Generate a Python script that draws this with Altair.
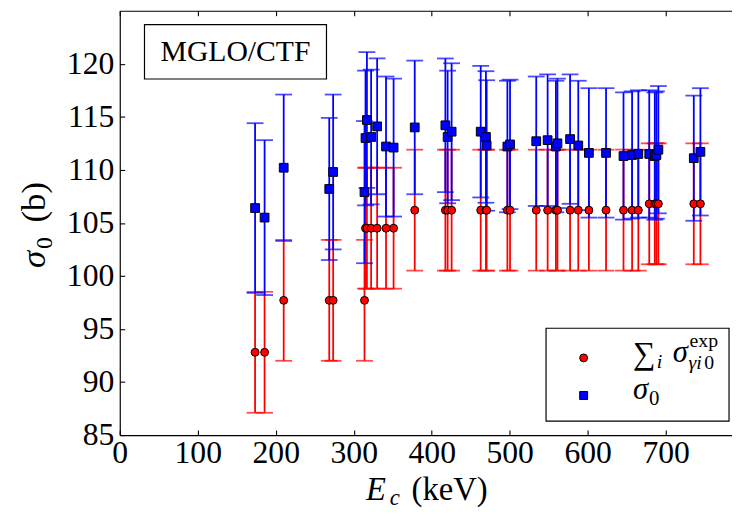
import altair as alt
import pandas as pd

# ---- data ----
energy = [173.5, 185.7, 210.2, 268.6, 273.6, 313.8, 315.1, 316.9, 322.3, 330.0,
          341.4, 351.1, 378.2, 417.5, 420.4, 425.5, 462.8, 469.5, 470.4, 497.0,
          500.4, 534.0, 548.6, 559.2, 561.2, 577.4, 587.9, 601.5, 623.5, 645.9,
          656.9, 664.9, 678.9, 686.0, 688.1, 690.6, 736.0, 744.5]
sum_val = [92.8, 92.8, 97.7, 97.7, 97.7, 97.7, 104.5, 104.5, 104.5, 104.5,
           104.5, 104.5, 106.2, 106.2, 106.2, 106.2, 106.2, 106.2, 106.2, 106.2,
           106.2, 106.2, 106.2, 106.2, 106.2, 106.2, 106.2, 106.2, 106.2, 106.2,
           106.2, 106.2, 106.8, 106.8, 106.8, 106.8, 106.8, 106.8]
sum_err = [5.7] * 38
sig_val = [106.4, 105.5, 110.2, 108.2, 109.8, 107.9, 113.0, 114.7, 113.1, 114.1,
           112.2, 112.1, 114.0, 114.2, 113.1, 113.6, 113.6, 113.1, 112.3, 112.2,
           112.4, 112.7, 112.8, 112.2, 112.5, 112.9, 112.3, 111.6, 111.6, 111.3,
           111.4, 111.5, 111.5, 111.3, 111.4, 111.9, 111.1, 111.7]
sig_err = [8.0, 7.3, 6.9, 6.7, 7.3, 6.7, 6.35, 6.4, 6.35, 6.4,
           6.6, 6.5, 6.3, 6.3, 6.25, 6.45, 6.2, 6.2, 6.15, 6.2,
           6.1, 6.1, 6.2, 6.2, 6.1, 6.1, 6.1, 6.1, 6.1, 6.0,
           6.0, 6.0, 6.0, 6.0, 6.0, 6.0, 5.9, 6.0]
x_ticks = [0, 100, 200, 300, 400, 500, 600, 700]
y_ticks = [85, 90, 95, 100, 105, 110, 115, 120]
x_domain = [0, 785]
y_domain = [85, 125]

df = pd.DataFrame({"E": energy, "s": sum_val, "se": sum_err,
                   "g": sig_val, "ge": sig_err})
df["s_lo"] = df["s"] - df["se"]
df["s_hi"] = df["s"] + df["se"]
df["g_lo"] = df["g"] - df["ge"]
df["g_hi"] = df["g"] + df["ge"]

W, H = 619, 429
FONT = "Liberation Serif, Times New Roman, serif"
RED, BLUE = "#ff0000", "#0000ff"
xs = alt.Scale(domain=x_domain, nice=False, zero=False)
ys = alt.Scale(domain=y_domain, nice=False, zero=False)

ax_x_main = alt.Axis(values=x_ticks, title=None, labelFont=FONT, labelFontSize=32,
                     labelColor="black", ticks=False, domain=True, domainColor="black",
                     domainWidth=1.2, grid=False, labelPadding=3, labelFlush=False,
                     labelOverlap=False)
ax_y_main = alt.Axis(values=y_ticks, title=None, labelFont=FONT, labelFontSize=32,
                     labelColor="black", ticks=False, domain=True, domainColor="black",
                     domainWidth=1.2, grid=False, labelPadding=6, labelFlush=False,
                     labelOverlap=False)
tick_kw = dict(title=None, labels=False, domain=False, grid=False, ticks=True,
               tickSize=5, tickColor="black", tickWidth=1.1)
ax_x_bot_in = alt.Axis(values=x_ticks, orient="top", offset=-H, **tick_kw)
ax_x_top_in = alt.Axis(values=x_ticks, orient="bottom", offset=-H, **tick_kw)
ax_y_left_in = alt.Axis(values=y_ticks, orient="right", offset=-W, **tick_kw)
ax_x_top_spine = alt.Axis(values=x_ticks, orient="top", title=None, labels=False,
                          ticks=False, grid=False, domain=True, domainColor="black",
                          domainWidth=1.2)

base = alt.Chart(df)
lw = 1.8

red_rule = base.mark_rule(color=RED, strokeWidth=lw).encode(
    x=alt.X("E:Q", scale=xs, axis=ax_x_main),
    y=alt.Y("s_lo:Q", scale=ys, axis=ax_y_main),
    y2="s_hi:Q")
red_cap_lo = base.mark_tick(orient="horizontal", size=17, thickness=lw, color=RED).encode(
    x=alt.X("E:Q", scale=xs, axis=ax_x_bot_in),
    y=alt.Y("s_lo:Q", scale=ys, axis=ax_y_left_in))
red_cap_hi = base.mark_tick(orient="horizontal", size=17, thickness=lw, color=RED).encode(
    x=alt.X("E:Q", scale=xs, axis=ax_x_top_in),
    y=alt.Y("s_hi:Q", scale=ys, axis=None))
blue_rule = base.mark_rule(color=BLUE, strokeWidth=lw).encode(
    x=alt.X("E:Q", scale=xs, axis=ax_x_top_spine),
    y=alt.Y("g_lo:Q", scale=ys, axis=None),
    y2="g_hi:Q")
blue_cap_lo = base.mark_tick(orient="horizontal", size=17, thickness=lw, color=BLUE).encode(
    x=alt.X("E:Q", scale=xs, axis=None),
    y=alt.Y("g_lo:Q", scale=ys, axis=None))
blue_cap_hi = base.mark_tick(orient="horizontal", size=17, thickness=lw, color=BLUE).encode(
    x=alt.X("E:Q", scale=xs, axis=None),
    y=alt.Y("g_hi:Q", scale=ys, axis=None))
red_pts = base.mark_point(shape="circle", filled=True, fill=RED, stroke="black",
                          strokeWidth=1, size=64, opacity=1).encode(
    x=alt.X("E:Q", scale=xs, axis=None),
    y=alt.Y("s:Q", scale=ys, axis=None))
blue_pts = base.mark_point(shape="square", filled=True, fill=BLUE, stroke="black",
                           strokeWidth=1, size=78, opacity=1).encode(
    x=alt.X("E:Q", scale=xs, axis=None),
    y=alt.Y("g:Q", scale=ys, axis=None))

one = alt.Chart(pd.DataFrame({"k": [0]}))


def txt(s, x, y, size=32, style="normal", angle=0, align="left", baseline="alphabetic"):
    return one.mark_text(text=s, font=FONT, fontSize=size, fontStyle=style, color="black",
                         align=align, baseline=baseline, angle=angle).encode(
        x=alt.value(x), y=alt.value(y))


# annotation box
ann_box = one.mark_rect(fill="white", stroke="black", strokeWidth=1.2).encode(
    x=alt.value(25), x2=alt.value(209), y=alt.value(14), y2=alt.value(69))
ann_txt = txt("MGLO/CTF", 117, 42, size=30, align="center", baseline="middle")

# legend
leg_box = one.mark_rect(fill="white", stroke="black", strokeWidth=1.2).encode(
    x=alt.value(431), x2=alt.value(616), y=alt.value(321), y2=alt.value(415))
leg_red = one.mark_point(shape="circle", filled=True, fill=RED, stroke="black",
                         strokeWidth=1, size=64, opacity=1).encode(
    x=alt.value(469), y=alt.value(351))
leg_blue = one.mark_point(shape="square", filled=True, fill=BLUE, stroke="black",
                          strokeWidth=1, size=64, opacity=1).encode(
    x=alt.value(469), y=alt.value(389))
leg_t = [
    txt("\u2211", 519, 357, size=32),
    txt("i", 543, 361, size=20, style="italic"),
    txt("\u03c3", 559, 355, size=31, style="italic"),
    txt("exp", 576, 340, size=20),
    txt("\u03b3i", 575, 362, size=20, style="italic"),
    txt("0", 591, 362, size=20),
    txt("\u03c3", 519, 393, size=31, style="italic"),
    txt("0", 535, 399, size=21),
]

# axis titles
x_title = [
    txt("E", 249, 495, size=33, style="italic"),
    txt("c", 273, 500, size=23, style="italic"),
    txt("(keV)", 295, 495, size=33),
]
y_title = [
    txt("\u03c3", -76, 260, size=35, style="italic", angle=270),
    txt("0", -69, 241, size=24, angle=270),
    txt("(b)", -76, 214, size=35, angle=270),
]

chart = alt.layer(
    red_rule, red_cap_lo, red_cap_hi, blue_rule, blue_cap_lo, blue_cap_hi,
    red_pts, blue_pts, ann_box, ann_txt, leg_box, leg_red, leg_blue,
    *leg_t, *x_title, *y_title
).resolve_axis(x="independent", y="independent").properties(
    width=W, height=H,
    autosize=alt.AutoSizeParams(type="none"),
    padding={"left": 113, "top": 0, "right": 0, "bottom": 73},
    background="white",
).configure_view(strokeOpacity=0)

chart.save("out.html", embed_options={"renderer": "svg", "actions": False})
